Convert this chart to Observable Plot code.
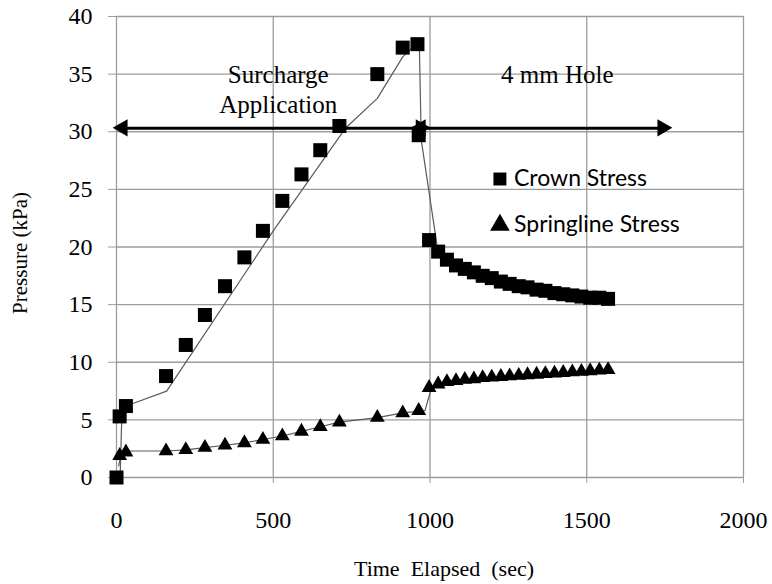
<!DOCTYPE html>
<html><head><meta charset="utf-8">
<script src="https://cdn.jsdelivr.net/npm/d3@7"></script>
<script src="https://cdn.jsdelivr.net/npm/@observablehq/plot@0.6"></script>
<style>body{margin:0;background:#fff}#chart{width:772px;height:584px}</style>
</head><body><div id="chart"></div>
<script>
// Tick values
const xTicks = [0, 500, 1000, 1500, 2000];
const yTicks = [0, 5, 10, 15, 20, 25, 30, 35, 40];

// Crown Stress markers (time in sec, pressure in kPa)
const crownTime = [0, 10, 30, 158, 221, 282, 346, 408, 467, 529, 590, 650, 711, 832, 913, 960, 964,
  997, 1026, 1054, 1083, 1111, 1140, 1168, 1197, 1226, 1254, 1283, 1311, 1340, 1368, 1397, 1425, 1454, 1483, 1511, 1540, 1568];
const crownStress = [0.0, 5.3, 6.2, 8.8, 11.5, 14.1, 16.6, 19.1, 21.4, 24.0, 26.3, 28.4, 30.5, 35.0, 37.3, 37.6, 29.7,
  20.6, 19.6, 18.9, 18.4, 18.1, 17.8, 17.5, 17.3, 17.0, 16.8, 16.6, 16.5, 16.3, 16.2, 16.0, 15.9, 15.8, 15.7, 15.6, 15.6, 15.5];

// Springline Stress markers
const springTime = [10, 30, 158, 221, 282, 346, 408, 467, 529, 590, 650, 711, 832, 913, 964,
  997, 1026, 1054, 1083, 1111, 1140, 1168, 1197, 1226, 1254, 1283, 1311, 1340, 1368, 1397, 1425, 1454, 1483, 1511, 1540, 1568];
const springStress = [1.9, 2.2, 2.3, 2.4, 2.6, 2.8, 3.0, 3.3, 3.6, 4.0, 4.4, 4.8, 5.2, 5.6, 5.8,
  7.8, 8.1, 8.3, 8.4, 8.5, 8.55, 8.65, 8.7, 8.75, 8.8, 8.85, 8.9, 8.95, 9.0, 9.05, 9.1, 9.15, 9.2, 9.25, 9.3, 9.35];

// Grey trace lines (continuous record)
const crownLineTime = [12, 17, 50, 160, 500, 730, 832, 913, 940, 966, 972, 1022,
  1054, 1083, 1111, 1140, 1168, 1197, 1226, 1254, 1283, 1311, 1340, 1368, 1397, 1425, 1454, 1483, 1511, 1540, 1568];
const crownLineStress = [0.5, 5.3, 6.4, 7.5, 21.4, 30.3, 32.9, 36.5, 37.2, 37.6, 29.3, 20.2,
  18.9, 18.4, 18.1, 17.8, 17.5, 17.3, 17.0, 16.8, 16.6, 16.5, 16.3, 16.2, 16.0, 15.9, 15.8, 15.7, 15.6, 15.6, 15.5];
const springLineTime = [7, 16, 160, 221, 282, 346, 408, 467, 529, 590, 650, 711, 832, 913, 984, 1003,
  1026, 1054, 1083, 1111, 1140, 1168, 1197, 1226, 1254, 1283, 1311, 1340, 1368, 1397, 1425, 1454, 1483, 1511, 1540, 1568];
const springLineStress = [1.0, 2.3, 2.3, 2.4, 2.6, 2.8, 3.0, 3.3, 3.6, 4.0, 4.4, 4.8, 5.2, 5.6, 5.8, 7.6,
  8.1, 8.3, 8.4, 8.5, 8.55, 8.65, 8.7, 8.75, 8.8, 8.85, 8.9, 8.95, 9.0, 9.05, 9.1, 9.15, 9.2, 9.25, 9.3, 9.35];

// Phase arrows (data units)
const arrowFrom = [21, 972];
const arrowTo = [972, 1743];
const arrowLevel = 30.3;

// Phase annotations
const annText = ["Surcharge", "Application", "4 mm Hole"];
const annX = [516, 516, 1406];
const annY = [34.9, 32.3, 34.9];

// Legend entries
const legendNames = ["Crown Stress", "Springline Stress"];
const legendSymbols = ["square", "triangle"];
const legendX = 1223;
const legendTextX = 1268;
const legendY = [25.9, 21.9];

const crown = crownTime.map((t, i) => ({t, v: crownStress[i]}));
const spring = springTime.map((t, i) => ({t, v: springStress[i]}));
const crownLine = crownLineTime.map((t, i) => ({t, v: crownLineStress[i]}));
const springLine = springLineTime.map((t, i) => ({t, v: springLineStress[i]}));
const arrows = arrowFrom.map((a, i) => ({a, b: arrowTo[i], y: arrowLevel}));
const heads = arrows.flatMap(d => [{x: d.a, y: d.y, rot: -90, dx: 10}, {x: d.b, y: d.y, rot: 90, dx: -10}]);
const ann = annText.map((s, i) => ({s, x: annX[i], y: annY[i]}));
const legend = legendNames.map((n, i) => ({n, sym: legendSymbols[i], y: legendY[i]}));

const grid = "#9c9c9c";
const serif = "'Liberation Serif', 'Times New Roman', serif";

const plot = Plot.plot({
  width: 772, height: 584,
  marginLeft: 116, marginRight: 29, marginTop: 16, marginBottom: 107,
  x: {domain: [0, 2000]},
  y: {domain: [0, 40]},
  style: {fontFamily: serif, background: "#fff", color: "black"},
  marks: [
    Plot.gridX(xTicks, {stroke: grid, strokeOpacity: 1, strokeWidth: 1.3}),
    Plot.gridY(yTicks, {stroke: grid, strokeOpacity: 1, strokeWidth: 1.3}),
    Plot.axisX(xTicks, {tickSize: 6, tickPadding: 27, fontSize: 24, label: null, stroke: grid, fill: "black", tickFormat: d => String(d)}),
    Plot.axisY(yTicks, {tickSize: 8, tickPadding: 16, fontSize: 24, label: null, stroke: grid, fill: "black", tickFormat: d => String(d)}),
    Plot.text(["Pressure (kPa)"], {frameAnchor: "left", dx: -96, dy: 6, rotate: -90, textAnchor: "middle", lineAnchor: "middle", fontSize: 21, fill: "black"}),
    Plot.text(["Time  Elapsed  (sec)"], {frameAnchor: "bottom", dx: 14, dy: 91, textAnchor: "middle", lineAnchor: "middle", fontSize: 22, fill: "black"}),
    Plot.line(crownLine, {x: "t", y: "v", stroke: "#5a5a5a", strokeWidth: 1.2}),
    Plot.line(springLine, {x: "t", y: "v", stroke: "#5a5a5a", strokeWidth: 1.2}),
    Plot.dot(crown, {x: "t", y: "v", symbol: "square", r: 7.9, fill: "black", stroke: "none"}),
    Plot.dot(spring, {x: "t", y: "v", symbol: "triangle", r: 5.5, fill: "black", stroke: "none"}),
    Plot.link(arrows, {x1: "a", x2: "b", y1: "y", y2: "y", stroke: "black", strokeWidth: 3}),
    Plot.dot(heads, {x: "x", y: "y", symbol: "triangle", r: 6.4, rotate: "rot", dx: "dx", fill: "black", stroke: "none"}),
    Plot.text(ann, {x: "x", y: "y", text: "s", fontSize: 25, fill: "black", lineAnchor: "middle"}),
    Plot.dot(legend, {x: legendX, y: "y", symbol: "sym", r: 7.3, fill: "black", stroke: "none"}),
    Plot.text(legend, {x: legendTextX, y: "y", text: "n", textAnchor: "start", fontSize: 23, fontFamily: "Lato", fill: "black"})
  ]
});
document.getElementById("chart").appendChild(plot);
</script>
</body></html>
